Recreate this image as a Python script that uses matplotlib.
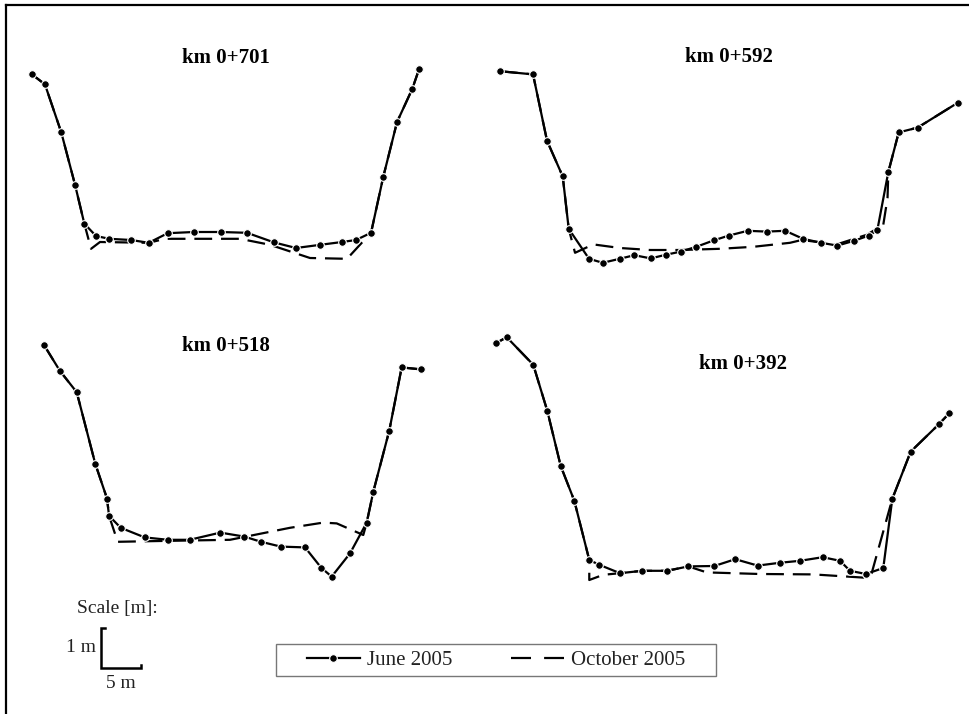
import matplotlib
matplotlib.use("Agg")
import matplotlib.pyplot as plt
from matplotlib.lines import Line2D
from matplotlib.patches import Rectangle

# cross sections, distance [m] and elevation [m] above the lowest bed point
km701_x_jun = [0.0, 1.62, 3.66, 5.38, 6.54, 8.0, 9.66, 12.38, 14.59, 16.96, 20.21, 23.59,
               26.88, 30.25, 33.0, 36.04, 38.75, 40.5, 42.38, 43.91, 45.63, 47.54, 48.38]
km701_z_jun = [4.64, 4.39, 3.19, 1.88, 0.91, 0.60, 0.53, 0.50, 0.43, 0.67, 0.70, 0.70,
               0.68, 0.44, 0.30, 0.38, 0.45, 0.50, 0.68, 2.08, 3.45, 4.28, 4.77]
km701_x_oct = [0.0, 1.62, 3.66, 5.38, 6.54, 7.38, 8.5, 14.59, 16.63, 26.0, 29.75, 34.75,
               39.38, 42.0, 42.38, 43.91, 45.63, 47.54, 48.38]
km701_z_oct = [4.64, 4.39, 3.19, 1.88, 0.91, 0.28, 0.45, 0.43, 0.53, 0.53, 0.38, 0.05,
               0.03, 0.60, 0.68, 2.08, 3.45, 4.28, 4.77]

km592_x_jun = [0.0, 4.13, 5.88, 7.84, 8.59, 11.13, 12.84, 14.96, 16.79, 18.84, 20.71, 22.59,
               24.54, 26.71, 28.59, 30.96, 33.34, 35.66, 37.88, 40.16, 42.16, 44.25, 46.09,
               47.16, 48.54, 49.84, 52.21, 57.21]
km592_z_jun = [4.82, 4.74, 3.08, 2.19, 0.88, 0.13, 0.03, 0.13, 0.22, 0.14, 0.23, 0.31,
               0.43, 0.59, 0.71, 0.83, 0.81, 0.83, 0.63, 0.53, 0.46, 0.58, 0.71,
               0.84, 2.30, 3.29, 3.41, 4.03]
km592_x_oct = [0.0, 4.13, 5.88, 7.84, 8.59, 9.38, 11.66, 15.0, 18.75, 22.5, 27.5, 31.66,
               36.25, 37.71, 42.09, 45.84, 47.91, 48.44, 48.54, 49.84, 52.21, 57.21]
km592_z_oct = [4.82, 4.74, 3.08, 2.19, 0.88, 0.28, 0.49, 0.40, 0.35, 0.35, 0.38, 0.43,
               0.53, 0.60, 0.49, 0.73, 0.98, 1.65, 2.30, 3.29, 3.41, 4.03]

km518_x_jun = [0.0, 2.0, 4.09, 6.41, 7.88, 8.13, 9.59, 12.59, 15.5, 18.21, 22.04, 25.04,
               27.13, 29.59, 32.63, 34.66, 35.96, 38.25, 40.34, 41.16, 43.16, 44.71, 47.13]
km518_z_jun = [5.80, 5.15, 4.62, 2.83, 1.96, 1.53, 1.23, 0.99, 0.93, 0.93, 1.11, 1.01,
               0.88, 0.76, 0.74, 0.23, 0.01, 0.59, 1.36, 2.13, 3.66, 5.24, 5.19]
km518_x_oct = [0.0, 2.0, 4.09, 6.41, 7.88, 8.13, 9.21, 14.5, 23.25, 25.75, 30.75, 34.91,
               36.59, 39.91, 40.34, 41.16, 43.16, 44.71, 47.13]
km518_z_oct = [5.80, 5.15, 4.62, 2.83, 1.96, 1.53, 0.88, 0.90, 0.93, 1.03, 1.23, 1.36,
               1.34, 1.05, 1.36, 2.13, 3.66, 5.24, 5.19]

km392_x_jun = [0.0, 1.34, 4.66, 6.41, 8.09, 9.79, 11.66, 12.91, 15.5, 18.29, 21.38, 24.04,
               27.29, 29.91, 32.71, 35.46, 38.0, 40.84, 43.0, 44.25, 46.25, 48.41, 49.54,
               51.84, 55.34, 56.66]
km392_z_jun = [5.92, 6.07, 5.38, 4.23, 2.85, 1.98, 0.50, 0.38, 0.17, 0.23, 0.23, 0.34,
               0.35, 0.52, 0.36, 0.43, 0.48, 0.57, 0.48, 0.23, 0.15, 0.30, 2.03,
               3.21, 3.89, 4.17]
km392_x_oct = [0.0, 1.34, 4.66, 6.41, 8.09, 9.79, 11.66, 11.66, 13.41, 15.5, 18.29, 21.38,
               24.04, 26.34, 33.0, 39.66, 45.91, 46.96, 49.54, 51.84, 55.34, 56.66]
km392_z_oct = [5.92, 6.07, 5.38, 4.23, 2.85, 1.98, 0.50, 0.0, 0.13, 0.17, 0.23, 0.23,
               0.34, 0.19, 0.15, 0.14, 0.06, 0.17, 2.03, 3.21, 3.89, 4.17]

titles = ["km 0+701", "km 0+592", "km 0+518", "km 0+392"]
legend_labels = ["June 2005", "October 2005"]

W, H = 970, 714
PX_PER_M_X = 8.0    # 5 m = 40 px
PX_PER_M_Z = 40.0   # 1 m = 40 px


def px(x, y):
    # image pixel -> drawing coordinates in metres
    return x / PX_PER_M_X, -y / PX_PER_M_Z


plt.rcParams["font.family"] = ["Liberation Serif", "DejaVu Serif"]

fig = plt.figure(figsize=(W / 100, H / 100), dpi=100)
ax = fig.add_axes([0, 0, 1, 1])
ax.set_xlim(0, W / PX_PER_M_X)
ax.set_ylim(-H / PX_PER_M_Z, 0)
ax.axis("off")

profiles = [
    (km701_x_jun, km701_z_jun, km701_x_oct, km701_z_oct),
    (km592_x_jun, km592_z_jun, km592_x_oct, km592_z_oct),
    (km518_x_jun, km518_z_jun, km518_x_oct, km518_z_oct),
    (km392_x_jun, km392_z_jun, km392_x_oct, km392_z_oct),
]
# panel origins (left end, bed level) and title centres in pixels
origins = [(32, 260), (500, 264), (44, 577), (496, 580)]
title_pos = [(226, 58), (729, 57), (226, 346), (743, 364)]

jun_style = dict(color="black", lw=1.6, marker="o", markersize=5.5,
                 markerfacecolor="black", markeredgecolor="white", markeredgewidth=0.8)
oct_style = dict(color="black", lw=1.6, dashes=(8, 4))

for (xj, zj, xo, zo), (ox, oy), title, (tx, ty) in zip(profiles, origins, titles, title_pos):
    x0, z0 = px(ox, oy)
    ax.plot([x + x0 for x in xo], [z + z0 for z in zo], **oct_style)
    ax.plot([x + x0 for x in xj], [z + z0 for z in zj], **jun_style)
    ax.text(*px(tx, ty), title, ha="center", va="center", fontsize=15, fontweight="bold")

# scale bar
sx, sz = px(101, 668)
ax.plot([sx + 0.45, sx, sx, sx + 5, sx + 5], [sz + 1, sz + 1, sz, sz, sz + 0.07],
        color="black", lw=1.8, solid_joinstyle="miter")
ax.text(*px(117, 608), "Scale [m]:", ha="center", va="center", fontsize=14, color="#222222")
ax.text(sx - 0.6, sz + 0.5, "1 m", ha="right", va="center", fontsize=14, color="#222222")
ax.text(sx + 2.5, sz - 0.38, "5 m", ha="center", va="center", fontsize=14, color="#222222")

# legend box
fig.add_artist(Rectangle((276 / W, 1 - 676 / H), 440 / W, 32 / H, transform=fig.transFigure,
                         fill=False, edgecolor="#777777", lw=1.0))
leg_jun = Line2D([], [], **jun_style)
leg_oct = Line2D([], [], color="black", lw=1.6, dashes=(9, 5.9))
fig.legend([leg_jun, leg_oct], legend_labels, loc="center", bbox_to_anchor=(496 / W, 1 - 660 / H),
           ncol=2, frameon=False, fontsize=15, handlelength=2.55, handletextpad=0.35,
           columnspacing=2.8, labelcolor="#222222")

# frame lines of the original figure (top and left only)
fig.add_artist(Line2D([6 / W, 1], [1 - 5 / H, 1 - 5 / H], transform=fig.transFigure,
                      color="black", lw=1.6))
fig.add_artist(Line2D([6 / W, 6 / W], [0, 1 - 5 / H], transform=fig.transFigure,
                      color="black", lw=1.6))

fig.savefig("out.png", dpi=100)
